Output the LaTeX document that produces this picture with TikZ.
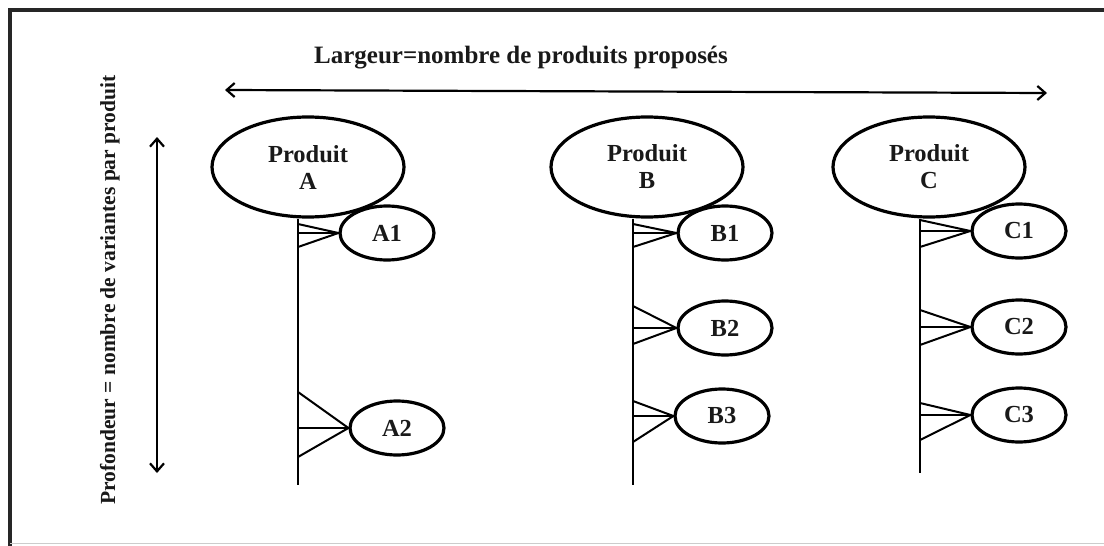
\documentclass[tikz,border=0pt]{standalone}
\usepackage{fontspec}
\setmainfont{Liberation Serif}
\usetikzlibrary{shapes.geometric,arrows.meta,calc}
\begin{document}
\begin{tikzpicture}[x=1pt,y=-1pt,
  every node/.style={font=\bfseries\fontsize{24.5}{27}\selectfont, text=black!90},
  prod/.style={ellipse, draw, line width=3.2pt, minimum width=192pt, minimum height=100pt, inner sep=0pt, align=center},
  variant/.style={ellipse, draw, line width=3.2pt, minimum width=94pt, minimum height=54pt, inner sep=0pt},
  stem/.style={line width=2.4pt},
  foot/.style={line width=2pt},
  dim/.style={line width=2.2pt, {Straight Barb[length=8pt,width=14pt]}-{Straight Barb[length=8pt,width=14pt]}}
]
\useasboundingbox (0,0) rectangle (1104,546);

% frame
\draw[line width=3.5pt, black!85] (10,546) -- (10,10) -- (1104,10);
\draw[line width=0.6pt, black!20] (10,543) -- (1104,543);

% axis labels and arrows
\node[anchor=base, font=\bfseries\fontsize{25}{27}\selectfont] (largeur) at (521,63) {Largeur=nombre de produits propos\'es};
\coordinate (hl) at (225,90);
\coordinate (hr) at (1047,93);
\draw[dim] (hl) -- (hr);

\node[anchor=base, rotate=90, font=\bfseries\fontsize{21.5}{26}\selectfont] (profondeur) at (115,290) {Profondeur = nombre de variantes par produit};
\coordinate (vt) at (157,137);
\coordinate (vb) at (157,473);
\draw[dim] (vt) -- (vb);

% products
\node[prod] (PA) at (308,167) {Produit\\A};
\node[prod] (PB) at (647,167) {Produit\\B};
\node[prod] (PC) at (929,167) {Produit\\C};

% stems
\coordinate (aBot) at (298,485);
\coordinate (bBot) at (633,485);
\coordinate (cBot) at (920,473);
\draw[stem] (PA.south -| aBot) -- (aBot);
\draw[stem] (PB.south -| bBot) -- (bBot);
\draw[stem] (PC.south -| cBot) -- (cBot);

% variants
\node[variant] (A1) at (387,233) {A1};
\node[variant] (A2) at (397,428) {A2};
\node[variant] (B1) at (725,233) {B1};
\node[variant] (B2) at (725,328) {B2};
\node[variant] (B3) at (722,416) {B3};
\node[variant] (C1) at (1019,231) {C1};
\node[variant] (C2) at (1019,327) {C2};
\node[variant] (C3) at (1019,415) {C3};

% crow's feet joining each variant to its stem
\foreach \v/\s/\t/\b in {A1/aBot/9/14, A2/aBot/36/29, B1/bBot/9/14, B2/bBot/22/16,
                         B3/bBot/15/26, C1/cBot/11/16, C2/cBot/17/18, C3/cBot/12/25} {
  \draw[foot] ($(\s |- \v.west)+(0,-\t)$) -- (\v.west) -- ($(\s |- \v.west)+(0,\b)$);
  \draw[foot] (\s |- \v.west) -- (\v.west);
}
\end{tikzpicture}
\end{document}
